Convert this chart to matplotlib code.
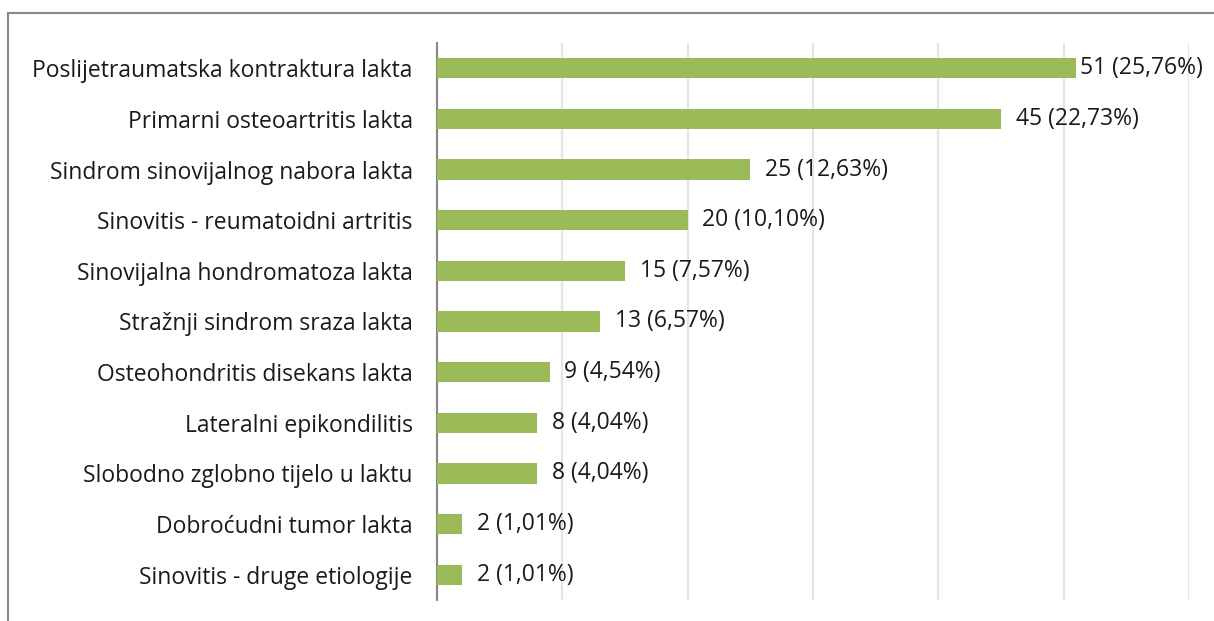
import matplotlib.pyplot as plt
from matplotlib.lines import Line2D

# data
categories = ['Poslijetraumatska kontraktura lakta', 'Primarni osteoartritis lakta',
              'Sindrom sinovijalnog nabora lakta', 'Sinovitis - reumatoidni artritis',
              'Sinovijalna hondromatoza lakta', 'Stražnji sindrom sraza lakta',
              'Osteohondritis disekans lakta', 'Lateralni epikondilitis',
              'Slobodno zglobno tijelo u laktu', 'Dobroćudni tumor lakta',
              'Sinovitis - druge etiologije']
counts = [51, 45, 25, 20, 15, 13, 9, 8, 8, 2, 2]
percents = ['25,76%', '22,73%', '12,63%', '10,10%', '7,57%', '6,57%',
            '4,54%', '4,04%', '4,04%', '1,01%', '1,01%']

plt.rcParams['font.family'] = ['Open Sans', 'DejaVu Sans']

fig = plt.figure(figsize=(12.14, 6.21), dpi=100)
ax = fig.add_axes([437/1214, 1-600/621, (1189-437)/1214, (600-43)/621])

y = list(range(len(categories)))
ax.barh(y, counts, height=0.4, color='#9bbb59', zorder=3)
for yi, c, p in zip(y, counts, percents):
    # longest label gets pushed in so it stays inside the chart
    off = 3 if c == max(counts) else 10.5
    ax.annotate(f'{c} ({p})', (c, yi), xytext=(off, 0), textcoords='offset points',
                va='center', ha='left', fontsize=16.5, color='#1a1a1a', zorder=4)

ax.set_xlim(0, 60)
ax.set_ylim(len(categories) - 0.5, -0.5)
ax.set_yticks(y)
ax.set_yticklabels(categories, fontsize=16.5, color='#1a1a1a')
ax.set_xticks(range(0, 61, 10))
ax.tick_params(axis='x', bottom=False, labelbottom=False)
ax.tick_params(axis='y', left=False, pad=14)
ax.grid(axis='x', color='#e6e4e1', linewidth=1.6, zorder=0)
for s in ['top', 'right', 'bottom']:
    ax.spines[s].set_visible(False)
ax.spines['left'].set_color('#888888')
ax.spines['left'].set_linewidth(1.5)

# outer frame (top and left only)
fig.add_artist(Line2D([8/1214, 1], [1-13/621, 1-13/621], color='#888888', linewidth=1.5))
fig.add_artist(Line2D([8/1214, 8/1214], [0, 1-13/621], color='#888888', linewidth=1.5))

fig.savefig('out.png', dpi=100)
